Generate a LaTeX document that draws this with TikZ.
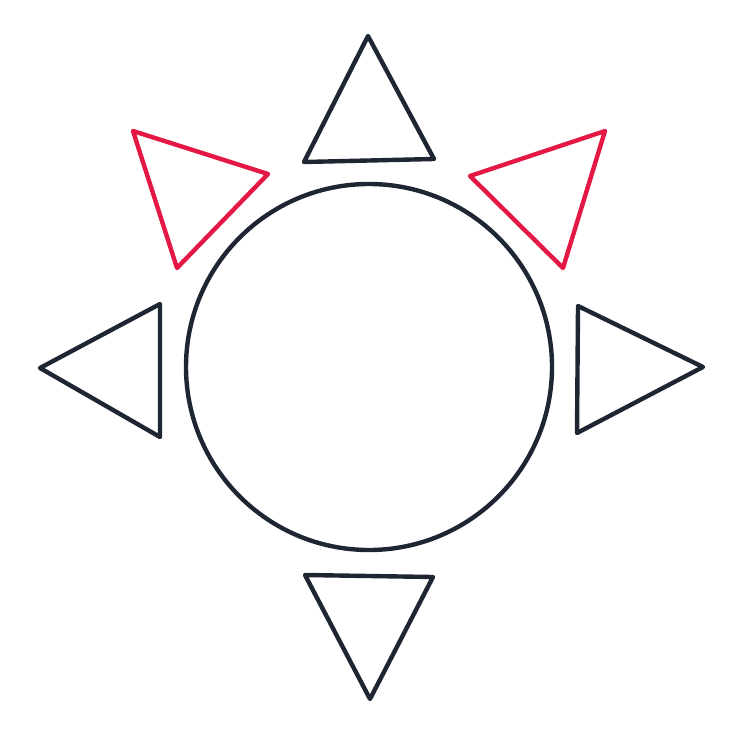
\documentclass[tikz,border=0pt]{standalone}
\usepackage{tikz}
\definecolor{inkdark}{RGB}{30,37,51}
\definecolor{inkred}{RGB}{228,24,68}
\tikzset{
	sketch/.style={line width=0.088cm, line join=round, line cap=round, color=inkdark},
	sketchred/.style={sketch, color=inkred}
}

\begin{document}
\begin{tikzpicture}[x=0.02cm, y=-0.02cm]
			%%%%% START %%%%%
			
			\useasboundingbox (0, 0) rectangle (739, 736);
			
			% centre
			\coordinate (sun) at (369, 367);
			\draw[sketch] (sun) circle (183);
			
			% dark rays
			\coordinate (topA) at (368, 36);
			\coordinate (topB) at (304, 162);
			\coordinate (topC) at (434, 159);
			\draw[sketch] (topA) -- (topB) -- (topC) -- cycle;
			
			\coordinate (leftA) at (40, 368);
			\coordinate (leftB) at (160, 304);
			\coordinate (leftC) at (160, 437);
			\draw[sketch] (leftA) -- (leftB) -- (leftC) -- cycle;
			
			\coordinate (rightA) at (703, 367);
			\coordinate (rightB) at (578, 306);
			\coordinate (rightC) at (577, 433);
			\draw[sketch] (rightA) -- (rightB) -- (rightC) -- cycle;
			
			\coordinate (botA) at (370, 699);
			\coordinate (botB) at (305, 575);
			\coordinate (botC) at (433, 577);
			\draw[sketch] (botA) -- (botB) -- (botC) -- cycle;
			
			% red rays
			\coordinate (tlA) at (133, 131);
			\coordinate (tlB) at (268, 174);
			\coordinate (tlC) at (177, 268);
			\draw[sketchred] (tlA) -- (tlB) -- (tlC) -- cycle;
			
			\coordinate (trA) at (605, 131);
			\coordinate (trB) at (470, 176);
			\coordinate (trC) at (563, 268);
			\draw[sketchred] (trA) -- (trB) -- (trC) -- cycle;
			
			%%%%% END %%%%%
\end{tikzpicture}
\end{document}
